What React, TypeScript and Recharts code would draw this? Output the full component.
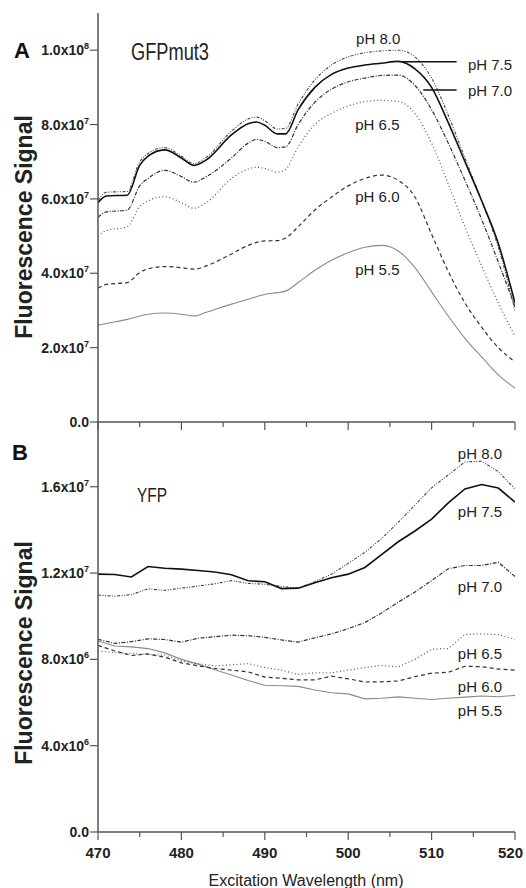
import React from "react";
import {
  LineChart,
  Line,
  XAxis,
  YAxis,
  ReferenceDot,
  ReferenceLine,
} from "recharts";

const FONT = '"Liberation Sans", Arial, Helvetica, sans-serif';

// ---- panel A: GFPmut3 (values in units of 1e7) ----
const wlA = [
  470, 471, 473.5, 475, 476, 478, 480, 481.5, 483, 486, 488, 489, 490, 491.5,
  492.5, 494, 496, 498, 500, 502, 504, 506, 508, 510, 512, 514, 516, 518, 520,
];
const gfp80 = [
  5.95, 6.18, 6.2, 7.0, 7.22, 7.38, 7.15, 6.95, 7.12, 7.82, 8.15, 8.2, 8.1,
  7.88, 7.9, 8.55, 9.2, 9.6, 9.82, 9.93, 9.98, 10.0, 9.82, 9.25, 8.25, 7.1,
  5.95, 4.7, 3.0,
];
const gfp75 = [
  5.9, 6.08, 6.1, 6.9, 7.15, 7.32, 7.1, 6.9, 7.05, 7.72, 8.02, 8.07, 7.98,
  7.75, 7.75, 8.4, 9.0, 9.35, 9.52, 9.6, 9.65, 9.7, 9.5, 9.0, 8.05, 7.0, 5.95,
  4.8, 3.2,
];
const gfp70 = [
  5.5, 5.65, 5.7, 6.35, 6.55, 6.77, 6.6, 6.45, 6.6, 7.1, 7.5, 7.6, 7.55, 7.38,
  7.4, 8.0, 8.6, 8.95, 9.15, 9.25, 9.32, 9.33, 9.05, 8.4, 7.5, 6.5, 5.45, 4.3,
  3.1,
];
const gfp65 = [
  5.0, 5.15, 5.25, 5.8, 5.95, 6.06, 5.9, 5.75, 5.9, 6.55, 6.8, 6.85, 6.82,
  6.72, 6.8, 7.4, 8.0, 8.3, 8.5, 8.62, 8.65, 8.62, 8.3, 7.5, 6.4, 5.25, 4.2,
  3.2, 2.3,
];
const gfp60 = [
  3.6, 3.7, 3.75, 4.02, 4.12, 4.18, 4.15, 4.11, 4.2, 4.52, 4.75, 4.83, 4.87,
  4.88, 4.95, 5.25, 5.7, 6.05, 6.35, 6.55, 6.64, 6.5, 6.05, 5.05, 4.05, 3.2,
  2.55, 2.0, 1.62,
];
const gfp55 = [
  2.6, 2.65, 2.76, 2.85, 2.9, 2.93, 2.9, 2.85, 2.95, 3.17, 3.3, 3.37, 3.43,
  3.48, 3.52, 3.75, 4.08, 4.35, 4.55, 4.7, 4.75, 4.6, 4.15, 3.5, 2.85, 2.25,
  1.75, 1.27, 0.91,
];

// ---- panel B: YFP (values in units of 1e6) ----
const wlB = [
  470, 472, 474, 476, 478, 480, 482, 484, 486, 488, 490, 492, 494, 496, 498,
  500, 502, 504, 506, 508, 510, 512, 514, 516, 518, 520,
];
const yfp80 = [
  10.98, 10.93, 11.0, 11.27, 11.2, 11.3, 11.4, 11.5, 11.65, 11.52, 11.48,
  11.38, 11.3, 11.6, 11.95, 12.45, 12.96, 13.6, 14.35, 15.15, 15.95, 16.55,
  17.15, 17.18, 16.7, 15.9,
];
const yfp75 = [
  11.95, 11.93, 11.82, 12.3, 12.22, 12.18, 12.12, 12.05, 11.92, 11.64, 11.6,
  11.28, 11.3, 11.55, 11.78, 11.95, 12.26, 12.85, 13.45, 13.95, 14.5, 15.25,
  15.9, 16.1, 15.94, 15.29,
];
const yfp70 = [
  8.93, 8.74, 8.82, 8.95, 8.92, 8.8, 8.98, 9.05, 9.12, 9.1, 9.02, 8.9, 8.8,
  9.0, 9.18, 9.42, 9.71, 10.15, 10.65, 11.12, 11.65, 12.2, 12.35, 12.35, 12.5,
  11.84,
];
const yfp65 = [
  8.39, 8.31, 8.27, 8.23, 8.2, 7.92, 7.8, 7.7, 7.75, 7.8, 7.62, 7.5, 7.3, 7.38,
  7.38, 7.5, 7.62, 7.72, 7.65, 8.0, 8.47, 8.5, 9.16, 9.18, 9.15, 8.93,
];
const yfp60 = [
  8.65, 8.39, 8.18, 8.25, 8.1, 7.84, 7.7, 7.58, 7.5, 7.42, 7.18, 7.12, 7.05,
  7.05, 7.22, 7.1, 6.95, 6.96, 7.0, 7.2, 7.36, 7.4, 7.68, 7.66, 7.55, 7.5,
];
const yfp55 = [
  8.85, 8.62, 8.58, 8.5, 8.3, 8.0, 7.78, 7.52, 7.28, 7.02, 6.8, 6.78, 6.75,
  6.58, 6.45, 6.4, 6.17, 6.2, 6.26, 6.2, 6.14, 6.2, 6.25, 6.3, 6.27, 6.33,
];

const xTicks = [470, 475, 480, 485, 490, 495, 500, 505, 510, 515, 520];
const yTicksA = [0, 2, 4, 6, 8, 10];
const yTicksB = [0, 4, 8, 12, 16];

// label positions (wavelength, value) for the pH annotations
const labelsA = [
  { text: "pH 8.0", x: 503.6, y: 10.3 },
  { text: "pH 7.5", x: 517.0, y: 9.6 },
  { text: "pH 7.0", x: 517.0, y: 8.9 },
  { text: "pH 6.5", x: 503.5, y: 8.0 },
  { text: "pH 6.0", x: 503.5, y: 6.05 },
  { text: "pH 5.5", x: 503.5, y: 4.1 },
];
const labelsB = [
  { text: "pH 8.0", x: 515.8, y: 17.55 },
  { text: "pH 7.5", x: 515.8, y: 14.85 },
  { text: "pH 7.0", x: 515.8, y: 11.35 },
  { text: "pH 6.5", x: 515.8, y: 8.25 },
  { text: "pH 6.0", x: 515.8, y: 6.75 },
  { text: "pH 5.5", x: 515.8, y: 5.6 },
];

const rowsA = wlA.map((wl, i) => ({
  wl,
  p80: gfp80[i],
  p75: gfp75[i],
  p70: gfp70[i],
  p65: gfp65[i],
  p60: gfp60[i],
  p55: gfp55[i],
}));
const rowsB = wlB.map((wl, i) => ({
  wl,
  p80: yfp80[i],
  p75: yfp75[i],
  p70: yfp70[i],
  p65: yfp65[i],
  p60: yfp60[i],
  p55: yfp55[i],
}));

const series = [
  { key: "p55", stroke: "#8a8a8a", width: 1.1, dash: undefined },
  { key: "p60", stroke: "#333", width: 1.2, dash: "4 3" },
  { key: "p65", stroke: "#555", width: 1.2, dash: "1 2.5" },
  { key: "p70", stroke: "#333", width: 1.2, dash: "4 1.5 1 1.5" },
  { key: "p80", stroke: "#444", width: 1.1, dash: "3 1.5 1 1.5 1 1.5" },
  { key: "p75", stroke: "#111", width: 1.6, dash: undefined },
];

const AXIS = "#555";

function XTick(props: any) {
  const { x, y, payload, showLabel } = props;
  const major = payload.value % 10 === 0;
  // last label is nudged left so it stays on the page, as in the original
  const last = payload.value === 520;
  return (
    <g>
      <line
        x1={x}
        x2={x}
        y1={y}
        y2={y + (major ? 8 : 5)}
        stroke={AXIS}
        strokeWidth={1.2}
      />
      {showLabel && major && (
        <text
          x={last ? x + 8 : x}
          y={y + 26}
          textAnchor={last ? "end" : "middle"}
          fontSize={15}
          fontWeight="bold"
          fill="#222"
          fontFamily={FONT}
        >
          {payload.value}
        </text>
      )}
    </g>
  );
}

function YTick(props: any) {
  const { x, y, payload, unitExp } = props;
  const v = payload.value;
  let body: React.ReactNode = "0.0";
  if (v !== 0) {
    const real = v * Math.pow(10, unitExp);
    const exp = Math.floor(Math.log10(real) + 1e-9);
    const mant = (real / Math.pow(10, exp)).toFixed(1);
    body = (
      <>
        {mant}x10
        <tspan dy={-6} fontSize={9}>
          {exp}
        </tspan>
      </>
    );
  }
  return (
    <g>
      <line x1={x - 8} x2={x} y1={y} y2={y} stroke={AXIS} strokeWidth={1.2} />
      <text
        x={x - 9}
        y={y + 5}
        textAnchor="end"
        fontSize={14}
        fontWeight="bold"
        fill="#222"
        fontFamily={FONT}
      >
        {body}
      </text>
    </g>
  );
}

function Panel(props: {
  rows: any[];
  height: number;
  xAxisHeight: number;
  top: number;
  yMax: number;
  yTicks: number[];
  unitExp: number;
  showXLabels: boolean;
  smooth: boolean;
  labels: { text: string; x: number; y: number }[];
  leaders?: { x1: number; x2: number; y: number }[];
}) {
  const p = props;
  return (
    <LineChart
      width={526}
      height={p.height}
      data={p.rows}
      margin={{ top: p.top, right: 11, left: 0, bottom: 0 }}
    >
      <XAxis
        type="number"
        dataKey="wl"
        domain={[470, 520]}
        ticks={xTicks}
        interval={0}
        height={p.xAxisHeight}
        tickSize={0}
        tickMargin={0}
        tickLine={false}
        axisLine={{ stroke: AXIS, strokeWidth: 1.5 }}
        tick={(t: any) => <XTick {...t} showLabel={p.showXLabels} />}
        allowDataOverflow
      />
      <YAxis
        type="number"
        domain={[0, p.yMax]}
        ticks={p.yTicks}
        interval={0}
        width={98}
        tickSize={0}
        tickMargin={0}
        tickLine={false}
        axisLine={{ stroke: AXIS, strokeWidth: 1.5 }}
        tick={(t: any) => <YTick {...t} unitExp={p.unitExp} />}
        allowDataOverflow
      />
      {series.map((s) => (
        <Line
          key={s.key}
          dataKey={s.key}
          type={p.smooth ? "monotone" : "linear"}
          stroke={s.stroke}
          strokeWidth={s.width}
          strokeDasharray={s.dash}
          dot={false}
          activeDot={false}
          isAnimationActive={false}
        />
      ))}
      {(p.leaders ?? []).map((l, i) => (
        <ReferenceLine
          key={"ld" + i}
          segment={[
            { x: l.x1, y: l.y },
            { x: l.x2, y: l.y },
          ]}
          stroke="#111"
          strokeWidth={1.5}
        />
      ))}
      {p.labels.map((l) => (
        <ReferenceDot
          key={l.text}
          x={l.x}
          y={l.y}
          r={0}
          fill="none"
          stroke="none"
          label={{
            value: l.text,
            position: "center",
            fontSize: 15,
            fill: "#222",
            fontFamily: FONT,
          }}
        />
      ))}
    </LineChart>
  );
}

export default function App() {
  return (
    <div
      style={{
        position: "absolute",
        left: 0,
        top: 0,
        width: 526,
        height: 888,
        background: "#fff",
        overflow: "hidden",
      }}
    >
      <div style={{ position: "absolute", left: 0, top: 0 }}>
        <Panel
          rows={rowsA}
          height={440}
          xAxisHeight={18}
          top={13}
          yMax={11}
          yTicks={yTicksA}
          unitExp={7}
          showXLabels={false}
          smooth
          labels={labelsA}
          leaders={[
            { x1: 506.5, x2: 513.0, y: 9.69 },
            { x1: 509.0, x2: 513.0, y: 8.93 },
          ]}
        />
      </div>
      <div style={{ position: "absolute", left: 0, top: 422 }}>
        <Panel
          rows={rowsB}
          height={466}
          xAxisHeight={56}
          top={0}
          yMax={19}
          yTicks={yTicksB}
          unitExp={6}
          showXLabels
          smooth={false}
          labels={labelsB}
        />
      </div>
      <svg
        width={526}
        height={888}
        style={{ position: "absolute", left: 0, top: 0, pointerEvents: "none" }}
        fontFamily={FONT}
      >
        <text x={14} y={58} fontSize={22} fontWeight="bold" fill="#111">
          A
        </text>
        <text x={12} y={460} fontSize={22} fontWeight="bold" fill="#111">
          B
        </text>
        <text
          x={131}
          y={60}
          fontSize={23}
          fill="#222"
          textLength={78}
          lengthAdjust="spacingAndGlyphs"
        >
          GFPmut3
        </text>
        <text
          x={137}
          y={502}
          fontSize={21}
          fill="#222"
          textLength={30}
          lengthAdjust="spacingAndGlyphs"
        >
          YFP
        </text>
        <text
          transform="translate(32,227) rotate(-90)"
          textAnchor="middle"
          fontSize={23}
          fontWeight="bold"
          fill="#222"
        >
          Fluorescence Signal
        </text>
        <text
          transform="translate(32,653) rotate(-90)"
          textAnchor="middle"
          fontSize={23}
          fontWeight="bold"
          fill="#222"
        >
          Fluorescence Signal
        </text>
        <text x={306} y={886} textAnchor="middle" fontSize={16} fill="#222">
          Excitation Wavelength (nm)
        </text>
      </svg>
    </div>
  );
}
